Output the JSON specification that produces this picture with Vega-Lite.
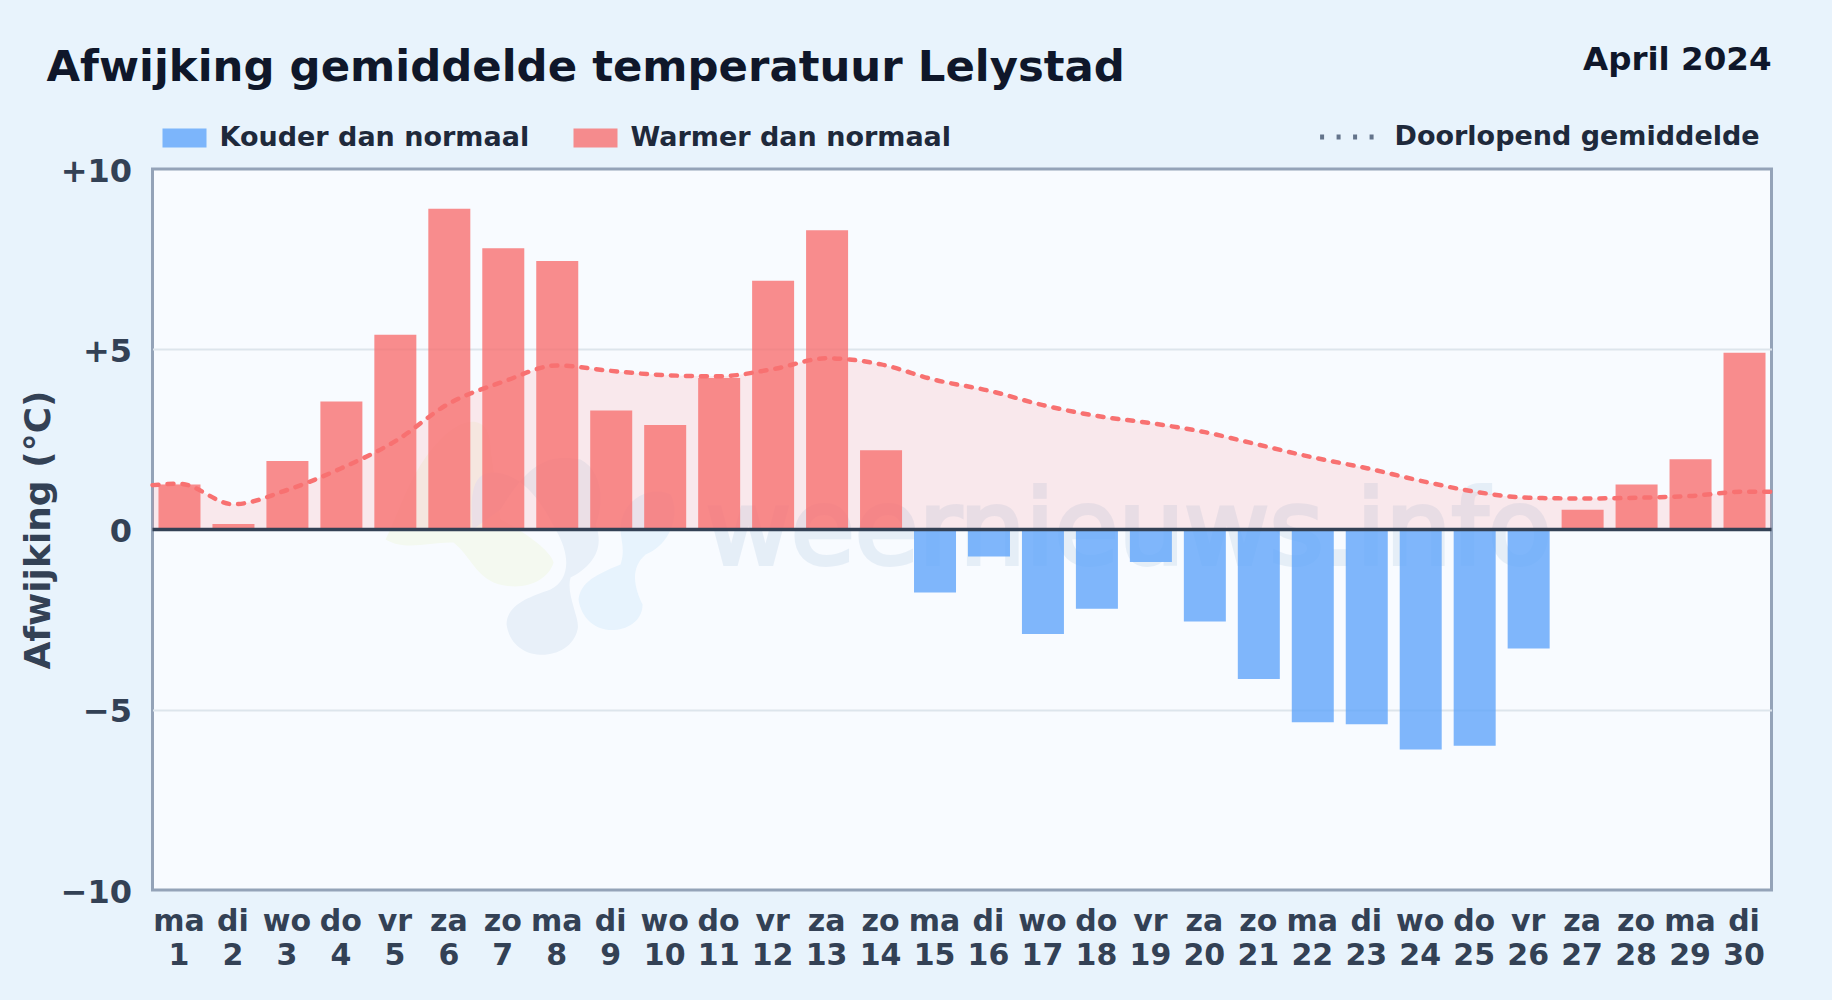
{
"$schema":"https://vega.github.io/schema/vega-lite/v6.json",
"width":1619,"height":721,
"autosize":{"type":"none"},
"padding":{"left":152.5,"top":169,"right":60,"bottom":110},
"background":"#e8f3fc",
"view":{"fill":"#f8fbff","stroke":"#94a3b8","strokeWidth":3},
"title":{"text":"Afwijking gemiddelde temperatuur Lelystad","anchor":"start","frame":"group","dx":-106,"offset":-80.5,"baseline":"alphabetic","fontSize":43.4,"fontWeight":"bold","font":"DejaVu Sans","color":"#0f172a"},
"datasets":{
"days":[
{"day":1,"afwijking":1.25,"soort":"Warmer dan normaal"},{"day":2,"afwijking":0.15,"soort":"Warmer dan normaal"},{"day":3,"afwijking":1.9,"soort":"Warmer dan normaal"},{"day":4,"afwijking":3.55,"soort":"Warmer dan normaal"},{"day":5,"afwijking":5.4,"soort":"Warmer dan normaal"},{"day":6,"afwijking":8.9,"soort":"Warmer dan normaal"},{"day":7,"afwijking":7.8,"soort":"Warmer dan normaal"},{"day":8,"afwijking":7.45,"soort":"Warmer dan normaal"},{"day":9,"afwijking":3.3,"soort":"Warmer dan normaal"},{"day":10,"afwijking":2.9,"soort":"Warmer dan normaal"},{"day":11,"afwijking":4.2,"soort":"Warmer dan normaal"},{"day":12,"afwijking":6.9,"soort":"Warmer dan normaal"},{"day":13,"afwijking":8.3,"soort":"Warmer dan normaal"},{"day":14,"afwijking":2.2,"soort":"Warmer dan normaal"},
{"day":15,"afwijking":-1.75,"soort":"Kouder dan normaal"},{"day":16,"afwijking":-0.75,"soort":"Kouder dan normaal"},{"day":17,"afwijking":-2.9,"soort":"Kouder dan normaal"},{"day":18,"afwijking":-2.2,"soort":"Kouder dan normaal"},{"day":19,"afwijking":-0.9,"soort":"Kouder dan normaal"},{"day":20,"afwijking":-2.55,"soort":"Kouder dan normaal"},{"day":21,"afwijking":-4.15,"soort":"Kouder dan normaal"},{"day":22,"afwijking":-5.35,"soort":"Kouder dan normaal"},{"day":23,"afwijking":-5.4,"soort":"Kouder dan normaal"},{"day":24,"afwijking":-6.1,"soort":"Kouder dan normaal"},{"day":25,"afwijking":-6.0,"soort":"Kouder dan normaal"},{"day":26,"afwijking":-3.3,"soort":"Kouder dan normaal"},
{"day":27,"afwijking":0.55,"soort":"Warmer dan normaal"},{"day":28,"afwijking":1.25,"soort":"Warmer dan normaal"},{"day":29,"afwijking":1.95,"soort":"Warmer dan normaal"},{"day":30,"afwijking":4.9,"soort":"Warmer dan normaal"}],
"gemiddelde":[
{"day":0.5,"gem":1.23,"reeks":"Doorlopend gemiddelde"},{"day":1,"gem":1.27,"reeks":"Doorlopend gemiddelde"},{"day":2,"gem":0.7,"reeks":"Doorlopend gemiddelde"},{"day":3,"gem":1.1,"reeks":"Doorlopend gemiddelde"},{"day":4,"gem":1.7,"reeks":"Doorlopend gemiddelde"},{"day":5,"gem":2.45,"reeks":"Doorlopend gemiddelde"},{"day":6,"gem":3.5,"reeks":"Doorlopend gemiddelde"},{"day":7,"gem":4.1,"reeks":"Doorlopend gemiddelde"},{"day":8,"gem":4.55,"reeks":"Doorlopend gemiddelde"},{"day":9,"gem":4.4,"reeks":"Doorlopend gemiddelde"},{"day":10,"gem":4.28,"reeks":"Doorlopend gemiddelde"},{"day":11,"gem":4.25,"reeks":"Doorlopend gemiddelde"},{"day":12,"gem":4.45,"reeks":"Doorlopend gemiddelde"},{"day":13,"gem":4.75,"reeks":"Doorlopend gemiddelde"},{"day":14,"gem":4.58,"reeks":"Doorlopend gemiddelde"},{"day":15,"gem":4.15,"reeks":"Doorlopend gemiddelde"},{"day":16,"gem":3.85,"reeks":"Doorlopend gemiddelde"},{"day":17,"gem":3.45,"reeks":"Doorlopend gemiddelde"},{"day":18,"gem":3.15,"reeks":"Doorlopend gemiddelde"},{"day":19,"gem":2.95,"reeks":"Doorlopend gemiddelde"},{"day":20,"gem":2.7,"reeks":"Doorlopend gemiddelde"},{"day":21,"gem":2.35,"reeks":"Doorlopend gemiddelde"},{"day":22,"gem":2.0,"reeks":"Doorlopend gemiddelde"},{"day":23,"gem":1.7,"reeks":"Doorlopend gemiddelde"},{"day":24,"gem":1.35,"reeks":"Doorlopend gemiddelde"},{"day":25,"gem":1.05,"reeks":"Doorlopend gemiddelde"},{"day":26,"gem":0.88,"reeks":"Doorlopend gemiddelde"},{"day":27,"gem":0.86,"reeks":"Doorlopend gemiddelde"},{"day":28,"gem":0.88,"reeks":"Doorlopend gemiddelde"},{"day":29,"gem":0.93,"reeks":"Doorlopend gemiddelde"},{"day":30,"gem":1.05,"reeks":"Doorlopend gemiddelde"},{"day":30.5,"gem":1.05,"reeks":"Doorlopend gemiddelde"}],
"een":[{"nul":0}]
},
"data":{"name":"days"},
"layer":[
{"mark":{"type":"bar","width":1,"opacity":0},
 "encoding":{
  "x":{"field":"day","type":"quantitative","scale":{"domain":[0.5,30.5],"nice":false,"zero":false,"padding":0},
   "axis":{"values":[1,2,3,4,5,6,7,8,9,10,11,12,13,14,15,16,17,18,19,20,21,22,23,24,25,26,27,28,29,30],"title":null,"grid":false,"domain":false,"ticks":false,"labelFont":"DejaVu Sans","labelFontSize":30,"labelFontWeight":"bold","labelColor":"#334155","labelPadding":16,"labelOffset":-1,"labelLineHeight":34,"labelOverlap":false,"labelBound":false,"labelFlush":false,"labelAngle":0,"labelExpr":"[['ma','di','wo','do','vr','za','zo'][(datum.value-1)%7],datum.label]"}},
  "y":{"field":"afwijking","type":"quantitative","scale":{"domain":[-10,10],"nice":false},
   "axis":{"values":[-10,-5,0,5,10],"title":"Afwijking (°C)","titleFont":"DejaVu Sans","titleFontSize":36,"titleFontWeight":"bold","titleColor":"#334155","titlePadding":3,"grid":true,"gridColor":{"condition":{"test":"abs(datum.value)==5","value":"#dde5ec"},"value":"transparent"},"gridWidth":2,"domain":false,"ticks":false,"labelFont":"DejaVu Sans","labelFontSize":32,"labelFontWeight":"bold","labelColor":"#334155","labelPadding":21,"labelOffset":2,"labelExpr":"datum.value>0?'+'+datum.value:(datum.value<0?'−'+abs(datum.value):'0')"}}}},
{"data":{"name":"een"},"mark":{"type":"point","filled":true,"size":4,"opacity":1,"color":"#f4f9f0","shape":"M-135,10 C-120,-20 -110,-60 -80,-90 C-55,-115 -30,-115 -30,-80 L-20,-10 C0,0 30,20 33,33 C27,53 0,63 -27,53 C-47,43 -50,27 -67,13 C-90,12 -115,22 -135,10Z"},
 "encoding":{"x":{"datum":7.32},"y":{"datum":0}}},
{"data":{"name":"een"},"mark":{"type":"point","filled":true,"size":4,"opacity":1,"color":"#e8f0f9","shape":"M-14,95 C-14,75 10,67 30,60 C50,50 50,25 35,0 C20,-30 0,-58 -30,-57 C-50,-55 -50,-30 -48,0 L-20,-20 C10,-70 30,-75 60,-70 C80,-60 85,-30 75,-5 C85,20 70,38 50,48 C45,65 60,90 57,100 C50,133 -8,136 -14,95Z"},
 "encoding":{"x":{"datum":7.32},"y":{"datum":0}}},
{"data":{"name":"een"},"mark":{"type":"point","filled":true,"size":4,"opacity":1,"color":"#e7f3fd","shape":"M58,70 C60,55 70,47 100,35 C105,20 100,10 100,0 C100,-30 130,-45 150,-35 C160,-15 150,15 125,25 C108,40 115,60 122,75 C122,95 100,103 85,100 C70,97 60,85 58,70Z"},
 "encoding":{"x":{"datum":7.32},"y":{"datum":0}}},
{"data":{"name":"een"},"mark":{"type":"text","text":"weernieuws.info","font":"DejaVu Sans","fontSize":104,"fontWeight":"normal","align":"left","baseline":"alphabetic","color":"#9fbcdc","stroke":"#9fbcdc","strokeWidth":4,"opacity":0.2},
 "encoding":{"x":{"datum":10.75},"y":{"datum":-0.97}}},
{"data":{"name":"gemiddelde"},"mark":{"type":"area","interpolate":"monotone","color":"#ff6b6b","opacity":0.13},
 "encoding":{"x":{"field":"day","type":"quantitative"},"y":{"field":"gem","type":"quantitative"}}},
{"mark":{"type":"bar","width":42,"orient":"vertical","opacity":0.8},
 "encoding":{
  "x":{"field":"day","type":"quantitative"},
  "y":{"field":"afwijking","type":"quantitative"},
  "fill":{"field":"soort","type":"nominal","scale":{"domain":["Kouder dan normaal","Warmer dan normaal"],"range":["#60a5fa","#f87171"]},
   "legend":{"orient":"none","legendX":10,"legendY":-53,"direction":"horizontal","columns":2,"title":null,"padding":0,"symbolType":"M-1,-0.43H1V0.43H-1Z","symbolSize":1936,"symbolOpacity":0.8,"symbolStrokeWidth":0,"labelFont":"DejaVu Sans","labelFontSize":27,"labelFontWeight":"bold","labelColor":"#1e293b","labelOffset":13,"labelLimit":500,"columnPadding":44}}}},
{"data":{"name":"gemiddelde"},"mark":{"type":"line","interpolate":"monotone","color":"#f87171","strokeWidth":4.5,"strokeCap":"round","strokeDash":[6,9]},
 "encoding":{"x":{"field":"day","type":"quantitative"},"y":{"field":"gem","type":"quantitative"}}},
{"data":{"name":"gemiddelde"},"mark":{"type":"line","opacity":0,"color":"#64748b"},
 "encoding":{"x":{"field":"day","type":"quantitative"},"y":{"field":"gem","type":"quantitative"},
  "strokeDash":{"field":"reeks","type":"nominal","scale":{"domain":["Doorlopend gemiddelde"],"range":[[4,12.5]]},
   "legend":{"orient":"none","legendX":1165,"legendY":-65,"title":null,"padding":0,"symbolType":"stroke","symbolSize":3700,"symbolOpacity":1,"symbolStrokeColor":"#64748b","symbolStrokeWidth":5,"labelFont":"DejaVu Sans","labelFontSize":27,"labelFontWeight":"bold","labelColor":"#1e293b","labelOffset":11,"labelLimit":500}}}},
{"data":{"name":"een"},"mark":{"type":"rule","color":"#334155","strokeWidth":3.5},"encoding":{"y":{"datum":0}}},
{"data":{"name":"een"},"mark":{"type":"text","text":"April 2024","font":"DejaVu Sans","fontSize":32.5,"fontWeight":"bold","align":"right","baseline":"alphabetic","color":"#0f172a"},
 "encoding":{"x":{"datum":30.5},"y":{"datum":12.76}}}
]
}
